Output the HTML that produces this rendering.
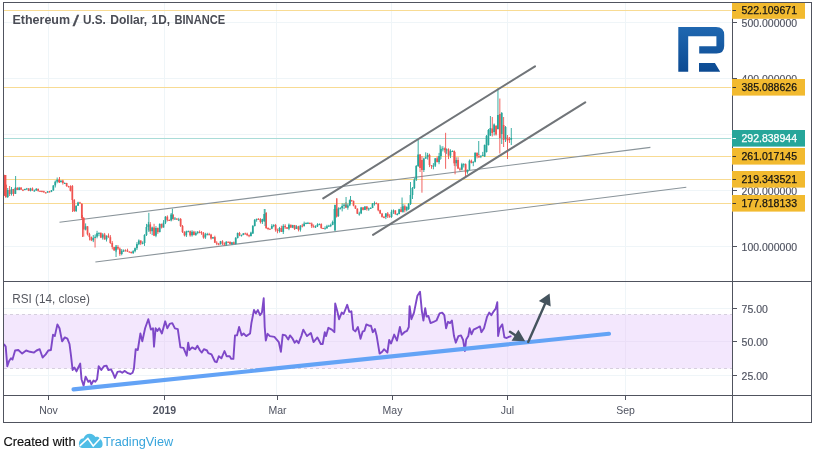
<!DOCTYPE html>
<html lang="en"><head><meta charset="utf-8"><title>Ethereum / U.S. Dollar, 1D, BINANCE</title>
<style>
html,body{margin:0;padding:0;background:#fff;}
body{width:815px;height:459px;overflow:hidden;}
svg{display:block;font-family:"Liberation Sans",Arial,sans-serif;}
</style></head><body>
<svg width="815" height="459" viewBox="0 0 815 459">
<rect width="815" height="459" fill="#ffffff"/>
<g id="grid"><rect x="48" y="3" width="1" height="392" fill="#eff5f8"/><rect x="164" y="3" width="1" height="392" fill="#eff5f8"/><rect x="276" y="3" width="1" height="392" fill="#eff5f8"/><rect x="391" y="3" width="1" height="392" fill="#eff5f8"/><rect x="507" y="3" width="1" height="392" fill="#eff5f8"/><rect x="625" y="3" width="1" height="392" fill="#eff5f8"/><rect x="4" y="22" width="728" height="1" fill="#eff5f8"/><rect x="4" y="78" width="728" height="1" fill="#eff5f8"/><rect x="4" y="134" width="728" height="1" fill="#eff5f8"/><rect x="4" y="190" width="728" height="1" fill="#eff5f8"/><rect x="4" y="246" width="728" height="1" fill="#eff5f8"/><rect x="4" y="308" width="728" height="1" fill="#eff5f8"/><rect x="4" y="341" width="728" height="1" fill="#eff5f8"/><rect x="4" y="375" width="728" height="1" fill="#eff5f8"/></g>
<rect x="4" y="314.5" width="728" height="54" fill="#f3e7fd"/>
<rect x="4" y="341" width="728" height="1" fill="#ebdff7"/>
<rect x="48" y="315" width="1" height="53.5" fill="#ebdff7"/>
<rect x="164" y="315" width="1" height="53.5" fill="#ebdff7"/>
<rect x="276" y="315" width="1" height="53.5" fill="#ebdff7"/>
<rect x="391" y="315" width="1" height="53.5" fill="#ebdff7"/>
<rect x="507" y="315" width="1" height="53.5" fill="#ebdff7"/>
<rect x="625" y="315" width="1" height="53.5" fill="#ebdff7"/>
<line x1="4" y1="314.5" x2="732" y2="314.5" stroke="#d6cfde" stroke-width="1" stroke-dasharray="3,3"/>
<line x1="4" y1="368.5" x2="732" y2="368.5" stroke="#d6cfde" stroke-width="1" stroke-dasharray="3,3"/>
<rect x="4" y="10" width="727" height="1" fill="#f8db93"/>
<rect x="4" y="87" width="727" height="1" fill="#f8db93"/>
<rect x="4" y="156" width="727" height="1" fill="#f8db93"/>
<rect x="4" y="179" width="727" height="1" fill="#f8db93"/>
<rect x="4" y="203" width="727" height="1" fill="#f8db93"/>
<rect x="4" y="138" width="727" height="1" fill="#a9dcd8"/>
<line x1="59.5" y1="222.3" x2="650.4" y2="147.4" stroke="#8a949a" stroke-width="1.1"/>
<line x1="95.4" y1="262" x2="686.3" y2="187.2" stroke="#8a949a" stroke-width="1.1"/>
<g id="candles"><rect x="4.2" y="175" width="2.2" height="21" fill="#ef5350"/><rect x="3.50" y="174.5" width="0.9" height="21.5" fill="#ef5350"/><rect x="3.05" y="175.0" width="1.75" height="20.0" fill="#ef5350"/><rect x="5.40" y="184.0" width="0.9" height="14.0" fill="#ef5350"/><rect x="4.95" y="185.0" width="1.75" height="12.0" fill="#ef5350"/><rect x="7.30" y="188.0" width="0.9" height="10.0" fill="#26a69a"/><rect x="6.85" y="190.0" width="1.75" height="7.0" fill="#26a69a"/><rect x="9.20" y="186.0" width="0.9" height="10.0" fill="#ef5350"/><rect x="8.75" y="190.0" width="1.75" height="4.0" fill="#ef5350"/><rect x="11.10" y="187.0" width="0.9" height="8.5" fill="#26a69a"/><rect x="10.65" y="189.0" width="1.75" height="5.0" fill="#26a69a"/><rect x="13.00" y="188.9" width="0.9" height="7.2" fill="#ef5350"/><rect x="12.55" y="189.0" width="1.75" height="4.9" fill="#ef5350"/><rect x="14.90" y="187.0" width="0.9" height="7.0" fill="#26a69a"/><rect x="14.45" y="187.9" width="1.75" height="5.9" fill="#26a69a"/><rect x="16.80" y="187.1" width="0.9" height="3.0" fill="#ef5350"/><rect x="16.35" y="187.9" width="1.75" height="2.1" fill="#ef5350"/><rect x="18.70" y="186.9" width="0.9" height="3.3" fill="#26a69a"/><rect x="18.25" y="187.7" width="1.75" height="2.3" fill="#26a69a"/><rect x="20.60" y="187.0" width="0.9" height="2.9" fill="#ef5350"/><rect x="20.15" y="187.7" width="1.75" height="2.0" fill="#ef5350"/><rect x="22.50" y="189.3" width="0.9" height="1.8" fill="#ef5350"/><rect x="22.05" y="189.7" width="1.75" height="1.0" fill="#ef5350"/><rect x="24.40" y="188.7" width="0.9" height="1.4" fill="#26a69a"/><rect x="23.95" y="189.0" width="1.75" height="1.1" fill="#26a69a"/><rect x="26.30" y="187.9" width="0.9" height="1.7" fill="#26a69a"/><rect x="25.85" y="188.5" width="1.75" height="1.0" fill="#26a69a"/><rect x="28.20" y="188.1" width="0.9" height="3.0" fill="#ef5350"/><rect x="27.75" y="188.5" width="1.75" height="2.3" fill="#ef5350"/><rect x="30.10" y="187.8" width="0.9" height="3.6" fill="#26a69a"/><rect x="29.65" y="188.5" width="1.75" height="2.3" fill="#26a69a"/><rect x="32.00" y="187.4" width="0.9" height="3.3" fill="#ef5350"/><rect x="31.55" y="188.5" width="1.75" height="2.1" fill="#ef5350"/><rect x="33.90" y="189.6" width="0.9" height="2.0" fill="#26a69a"/><rect x="33.45" y="190.5" width="1.75" height="1.0" fill="#26a69a"/><rect x="35.80" y="188.0" width="0.9" height="2.8" fill="#26a69a"/><rect x="35.35" y="188.9" width="1.75" height="1.6" fill="#26a69a"/><rect x="37.70" y="188.5" width="0.9" height="3.2" fill="#ef5350"/><rect x="37.25" y="188.9" width="1.75" height="1.9" fill="#ef5350"/><rect x="39.60" y="190.7" width="0.9" height="1.1" fill="#ef5350"/><rect x="39.15" y="190.8" width="1.75" height="1.0" fill="#ef5350"/><rect x="41.50" y="190.4" width="0.9" height="1.7" fill="#ef5350"/><rect x="41.05" y="191.1" width="1.75" height="1.0" fill="#ef5350"/><rect x="43.40" y="190.7" width="0.9" height="1.9" fill="#ef5350"/><rect x="42.95" y="191.2" width="1.75" height="1.2" fill="#ef5350"/><rect x="45.30" y="192.0" width="0.9" height="1.4" fill="#ef5350"/><rect x="44.85" y="192.4" width="1.75" height="1.0" fill="#ef5350"/><rect x="47.20" y="191.1" width="0.9" height="1.6" fill="#26a69a"/><rect x="46.75" y="191.4" width="1.75" height="1.2" fill="#26a69a"/><rect x="49.10" y="190.9" width="0.9" height="1.5" fill="#ef5350"/><rect x="48.65" y="191.4" width="1.75" height="1.0" fill="#ef5350"/><rect x="51.00" y="190.0" width="0.9" height="2.1" fill="#26a69a"/><rect x="50.55" y="190.3" width="1.75" height="1.4" fill="#26a69a"/><rect x="52.90" y="185.1" width="0.9" height="5.7" fill="#26a69a"/><rect x="52.45" y="185.5" width="1.75" height="4.8" fill="#26a69a"/><rect x="54.80" y="180.5" width="0.9" height="7.0" fill="#26a69a"/><rect x="54.35" y="181.7" width="1.75" height="3.7" fill="#26a69a"/><rect x="56.70" y="177.5" width="0.9" height="5.8" fill="#26a69a"/><rect x="56.25" y="179.8" width="1.75" height="1.9" fill="#26a69a"/><rect x="58.60" y="178.8" width="0.9" height="4.1" fill="#ef5350"/><rect x="58.15" y="179.8" width="1.75" height="2.2" fill="#ef5350"/><rect x="60.50" y="180.4" width="0.9" height="2.3" fill="#26a69a"/><rect x="60.05" y="180.6" width="1.75" height="1.4" fill="#26a69a"/><rect x="62.40" y="179.8" width="0.9" height="4.8" fill="#ef5350"/><rect x="61.95" y="180.6" width="1.75" height="2.4" fill="#ef5350"/><rect x="64.30" y="182.4" width="0.9" height="1.6" fill="#26a69a"/><rect x="63.85" y="183.0" width="1.75" height="1.0" fill="#26a69a"/><rect x="66.20" y="182.8" width="0.9" height="4.0" fill="#ef5350"/><rect x="65.75" y="183.0" width="1.75" height="3.0" fill="#ef5350"/><rect x="68.10" y="185.8" width="0.9" height="1.8" fill="#ef5350"/><rect x="67.65" y="186.0" width="1.75" height="1.0" fill="#ef5350"/><rect x="70.00" y="185.3" width="0.9" height="6.1" fill="#ef5350"/><rect x="69.55" y="186.4" width="1.75" height="4.5" fill="#ef5350"/><rect x="71.90" y="185.0" width="0.9" height="18.0" fill="#ef5350"/><rect x="71.45" y="186.0" width="1.75" height="14.0" fill="#ef5350"/><rect x="73.80" y="199.0" width="0.9" height="13.0" fill="#ef5350"/><rect x="73.35" y="200.0" width="1.75" height="11.0" fill="#ef5350"/><rect x="75.70" y="205.6" width="0.9" height="6.4" fill="#26a69a"/><rect x="75.25" y="205.7" width="1.75" height="5.3" fill="#26a69a"/><rect x="77.60" y="201.7" width="0.9" height="4.3" fill="#26a69a"/><rect x="77.15" y="202.5" width="1.75" height="3.2" fill="#26a69a"/><rect x="79.50" y="201.8" width="0.9" height="1.7" fill="#ef5350"/><rect x="79.05" y="202.5" width="1.75" height="1.0" fill="#ef5350"/><rect x="81.40" y="203.0" width="0.9" height="17.0" fill="#ef5350"/><rect x="80.95" y="204.0" width="1.75" height="14.0" fill="#ef5350"/><rect x="83.30" y="217.0" width="0.9" height="19.7" fill="#ef5350"/><rect x="82.85" y="218.0" width="1.75" height="11.5" fill="#ef5350"/><rect x="85.20" y="223.4" width="0.9" height="7.0" fill="#26a69a"/><rect x="84.75" y="226.3" width="1.75" height="3.2" fill="#26a69a"/><rect x="87.10" y="226.1" width="0.9" height="9.4" fill="#ef5350"/><rect x="86.65" y="226.3" width="1.75" height="8.0" fill="#ef5350"/><rect x="89.00" y="232.8" width="0.9" height="7.6" fill="#ef5350"/><rect x="88.55" y="234.2" width="1.75" height="2.9" fill="#ef5350"/><rect x="90.90" y="236.5" width="0.9" height="4.6" fill="#ef5350"/><rect x="90.45" y="237.1" width="1.75" height="3.2" fill="#ef5350"/><rect x="92.80" y="235.0" width="0.9" height="7.1" fill="#26a69a"/><rect x="92.35" y="237.9" width="1.75" height="2.5" fill="#26a69a"/><rect x="94.70" y="234.4" width="0.9" height="3.7" fill="#26a69a"/><rect x="94.25" y="236.8" width="1.75" height="1.1" fill="#26a69a"/><rect x="96.60" y="230.8" width="0.9" height="7.5" fill="#26a69a"/><rect x="96.15" y="233.2" width="1.75" height="3.5" fill="#26a69a"/><rect x="98.50" y="232.5" width="0.9" height="3.7" fill="#26a69a"/><rect x="98.05" y="232.8" width="1.75" height="1.0" fill="#26a69a"/><rect x="100.40" y="232.5" width="0.9" height="5.6" fill="#ef5350"/><rect x="99.95" y="232.8" width="1.75" height="4.8" fill="#ef5350"/><rect x="102.30" y="233.1" width="0.9" height="6.5" fill="#26a69a"/><rect x="101.85" y="234.5" width="1.75" height="3.1" fill="#26a69a"/><rect x="104.20" y="232.9" width="0.9" height="6.8" fill="#ef5350"/><rect x="103.75" y="234.5" width="1.75" height="4.9" fill="#ef5350"/><rect x="106.10" y="235.4" width="0.9" height="6.1" fill="#26a69a"/><rect x="105.65" y="235.7" width="1.75" height="3.7" fill="#26a69a"/><rect x="108.00" y="233.4" width="0.9" height="4.4" fill="#ef5350"/><rect x="107.55" y="235.7" width="1.75" height="1.5" fill="#ef5350"/><rect x="109.90" y="235.1" width="0.9" height="8.8" fill="#ef5350"/><rect x="109.45" y="237.2" width="1.75" height="5.8" fill="#ef5350"/><rect x="111.80" y="241.1" width="0.9" height="8.3" fill="#ef5350"/><rect x="111.35" y="243.0" width="1.75" height="4.1" fill="#ef5350"/><rect x="113.70" y="246.8" width="0.9" height="4.0" fill="#ef5350"/><rect x="113.25" y="247.1" width="1.75" height="3.3" fill="#ef5350"/><rect x="115.60" y="245.4" width="0.9" height="6.8" fill="#26a69a"/><rect x="115.15" y="246.9" width="1.75" height="3.5" fill="#26a69a"/><rect x="117.50" y="245.1" width="0.9" height="4.8" fill="#ef5350"/><rect x="117.05" y="246.9" width="1.75" height="1.7" fill="#ef5350"/><rect x="119.40" y="247.4" width="0.9" height="8.5" fill="#ef5350"/><rect x="118.95" y="248.6" width="1.75" height="5.5" fill="#ef5350"/><rect x="121.30" y="249.0" width="0.9" height="6.3" fill="#26a69a"/><rect x="120.85" y="250.7" width="1.75" height="3.3" fill="#26a69a"/><rect x="123.20" y="249.4" width="0.9" height="2.6" fill="#26a69a"/><rect x="122.75" y="250.4" width="1.75" height="1.0" fill="#26a69a"/><rect x="125.10" y="249.3" width="0.9" height="2.1" fill="#ef5350"/><rect x="124.65" y="250.4" width="1.75" height="1.0" fill="#ef5350"/><rect x="127.00" y="248.7" width="0.9" height="3.3" fill="#ef5350"/><rect x="126.55" y="250.4" width="1.75" height="1.1" fill="#ef5350"/><rect x="128.90" y="251.4" width="0.9" height="1.2" fill="#ef5350"/><rect x="128.45" y="251.5" width="1.75" height="1.0" fill="#ef5350"/><rect x="130.80" y="251.6" width="0.9" height="1.9" fill="#ef5350"/><rect x="130.35" y="251.9" width="1.75" height="1.2" fill="#ef5350"/><rect x="132.70" y="250.2" width="0.9" height="3.7" fill="#26a69a"/><rect x="132.25" y="251.2" width="1.75" height="1.9" fill="#26a69a"/><rect x="134.60" y="247.5" width="0.9" height="4.9" fill="#26a69a"/><rect x="134.15" y="248.2" width="1.75" height="3.0" fill="#26a69a"/><rect x="136.50" y="242.1" width="0.9" height="7.9" fill="#26a69a"/><rect x="136.05" y="244.1" width="1.75" height="4.1" fill="#26a69a"/><rect x="138.40" y="239.4" width="0.9" height="5.8" fill="#26a69a"/><rect x="137.95" y="240.5" width="1.75" height="3.7" fill="#26a69a"/><rect x="140.30" y="240.4" width="0.9" height="4.7" fill="#ef5350"/><rect x="139.85" y="240.5" width="1.75" height="2.9" fill="#ef5350"/><rect x="142.20" y="241.3" width="0.9" height="3.0" fill="#26a69a"/><rect x="141.75" y="242.9" width="1.75" height="1.0" fill="#26a69a"/><rect x="144.10" y="234.2" width="0.9" height="11.7" fill="#26a69a"/><rect x="143.65" y="235.0" width="1.75" height="8.0" fill="#26a69a"/><rect x="146.00" y="223.9" width="0.9" height="12.1" fill="#26a69a"/><rect x="145.55" y="227.0" width="1.75" height="8.0" fill="#26a69a"/><rect x="147.90" y="221.9" width="0.9" height="8.6" fill="#26a69a"/><rect x="147.45" y="224.4" width="1.75" height="2.6" fill="#26a69a"/><rect x="149.80" y="222.1" width="0.9" height="11.8" fill="#ef5350"/><rect x="149.35" y="224.4" width="1.75" height="6.8" fill="#ef5350"/><rect x="151.70" y="226.6" width="0.9" height="8.5" fill="#26a69a"/><rect x="151.25" y="227.5" width="1.75" height="3.7" fill="#26a69a"/><rect x="153.60" y="223.8" width="0.9" height="12.3" fill="#ef5350"/><rect x="153.15" y="227.5" width="1.75" height="8.2" fill="#ef5350"/><rect x="155.50" y="226.1" width="0.9" height="11.1" fill="#26a69a"/><rect x="155.05" y="228.0" width="1.75" height="7.7" fill="#26a69a"/><rect x="157.40" y="227.5" width="0.9" height="6.4" fill="#ef5350"/><rect x="156.95" y="228.0" width="1.75" height="4.1" fill="#ef5350"/><rect x="159.30" y="223.3" width="0.9" height="9.2" fill="#26a69a"/><rect x="158.85" y="224.0" width="1.75" height="8.0" fill="#26a69a"/><rect x="161.20" y="223.5" width="0.9" height="5.0" fill="#ef5350"/><rect x="160.75" y="224.0" width="1.75" height="3.5" fill="#ef5350"/><rect x="163.10" y="220.1" width="0.9" height="7.5" fill="#26a69a"/><rect x="162.65" y="222.7" width="1.75" height="4.8" fill="#26a69a"/><rect x="165.00" y="216.1" width="0.9" height="8.0" fill="#26a69a"/><rect x="164.55" y="216.7" width="1.75" height="6.0" fill="#26a69a"/><rect x="166.90" y="215.4" width="0.9" height="6.0" fill="#ef5350"/><rect x="166.45" y="216.7" width="1.75" height="3.2" fill="#ef5350"/><rect x="168.80" y="219.4" width="0.9" height="1.6" fill="#ef5350"/><rect x="168.35" y="220.0" width="1.75" height="1.0" fill="#ef5350"/><rect x="170.70" y="213.0" width="0.9" height="8.4" fill="#26a69a"/><rect x="170.25" y="214.5" width="1.75" height="5.9" fill="#26a69a"/><rect x="172.60" y="214.5" width="0.9" height="5.9" fill="#ef5350"/><rect x="172.15" y="214.5" width="1.75" height="4.4" fill="#ef5350"/><rect x="174.50" y="217.0" width="0.9" height="2.7" fill="#26a69a"/><rect x="174.05" y="218.5" width="1.75" height="1.0" fill="#26a69a"/><rect x="176.40" y="218.4" width="0.9" height="1.5" fill="#ef5350"/><rect x="175.95" y="218.5" width="1.75" height="1.1" fill="#ef5350"/><rect x="178.30" y="217.8" width="0.9" height="3.3" fill="#26a69a"/><rect x="177.85" y="219.4" width="1.75" height="1.0" fill="#26a69a"/><rect x="180.20" y="218.0" width="0.9" height="9.0" fill="#ef5350"/><rect x="179.75" y="219.0" width="1.75" height="7.0" fill="#ef5350"/><rect x="182.10" y="225.0" width="0.9" height="8.0" fill="#ef5350"/><rect x="181.65" y="226.0" width="1.75" height="6.0" fill="#ef5350"/><rect x="184.00" y="231.2" width="0.9" height="5.2" fill="#ef5350"/><rect x="183.55" y="232.0" width="1.75" height="3.4" fill="#ef5350"/><rect x="185.90" y="230.6" width="0.9" height="6.4" fill="#26a69a"/><rect x="185.45" y="231.4" width="1.75" height="4.0" fill="#26a69a"/><rect x="187.80" y="230.5" width="0.9" height="1.6" fill="#26a69a"/><rect x="187.35" y="231.2" width="1.75" height="1.0" fill="#26a69a"/><rect x="189.70" y="230.5" width="0.9" height="6.2" fill="#ef5350"/><rect x="189.25" y="231.2" width="1.75" height="4.2" fill="#ef5350"/><rect x="191.60" y="230.2" width="0.9" height="6.4" fill="#26a69a"/><rect x="191.15" y="231.7" width="1.75" height="3.6" fill="#26a69a"/><rect x="193.50" y="230.8" width="0.9" height="4.6" fill="#ef5350"/><rect x="193.05" y="231.7" width="1.75" height="3.2" fill="#ef5350"/><rect x="195.40" y="231.3" width="0.9" height="4.6" fill="#26a69a"/><rect x="194.95" y="232.9" width="1.75" height="2.0" fill="#26a69a"/><rect x="197.30" y="231.0" width="0.9" height="3.2" fill="#26a69a"/><rect x="196.85" y="231.9" width="1.75" height="1.0" fill="#26a69a"/><rect x="199.20" y="230.4" width="0.9" height="2.9" fill="#ef5350"/><rect x="198.75" y="231.9" width="1.75" height="1.0" fill="#ef5350"/><rect x="201.10" y="231.1" width="0.9" height="3.7" fill="#ef5350"/><rect x="200.65" y="232.2" width="1.75" height="1.0" fill="#ef5350"/><rect x="203.00" y="232.0" width="0.9" height="6.7" fill="#ef5350"/><rect x="202.55" y="233.1" width="1.75" height="4.4" fill="#ef5350"/><rect x="204.90" y="232.8" width="0.9" height="6.1" fill="#26a69a"/><rect x="204.45" y="234.4" width="1.75" height="3.1" fill="#26a69a"/><rect x="206.80" y="232.8" width="0.9" height="2.4" fill="#26a69a"/><rect x="206.35" y="234.2" width="1.75" height="1.0" fill="#26a69a"/><rect x="208.70" y="232.8" width="0.9" height="2.4" fill="#ef5350"/><rect x="208.25" y="234.2" width="1.75" height="1.0" fill="#ef5350"/><rect x="210.60" y="233.8" width="0.9" height="5.8" fill="#ef5350"/><rect x="210.15" y="234.6" width="1.75" height="3.9" fill="#ef5350"/><rect x="212.50" y="236.9" width="0.9" height="1.8" fill="#26a69a"/><rect x="212.05" y="237.1" width="1.75" height="1.4" fill="#26a69a"/><rect x="214.40" y="235.7" width="0.9" height="7.3" fill="#ef5350"/><rect x="213.95" y="237.1" width="1.75" height="5.6" fill="#ef5350"/><rect x="216.30" y="241.2" width="0.9" height="4.0" fill="#ef5350"/><rect x="215.85" y="242.7" width="1.75" height="1.0" fill="#ef5350"/><rect x="218.20" y="242.9" width="0.9" height="2.3" fill="#ef5350"/><rect x="217.75" y="243.7" width="1.75" height="1.0" fill="#ef5350"/><rect x="220.10" y="240.9" width="0.9" height="3.6" fill="#26a69a"/><rect x="219.65" y="241.3" width="1.75" height="3.0" fill="#26a69a"/><rect x="222.00" y="240.2" width="0.9" height="4.8" fill="#ef5350"/><rect x="221.55" y="241.3" width="1.75" height="2.2" fill="#ef5350"/><rect x="223.90" y="242.3" width="0.9" height="3.5" fill="#ef5350"/><rect x="223.45" y="243.5" width="1.75" height="1.0" fill="#ef5350"/><rect x="225.80" y="241.1" width="0.9" height="4.7" fill="#26a69a"/><rect x="225.35" y="241.8" width="1.75" height="2.8" fill="#26a69a"/><rect x="227.70" y="241.4" width="0.9" height="1.3" fill="#ef5350"/><rect x="227.25" y="241.8" width="1.75" height="1.0" fill="#ef5350"/><rect x="229.60" y="241.4" width="0.9" height="2.8" fill="#ef5350"/><rect x="229.15" y="241.9" width="1.75" height="2.2" fill="#ef5350"/><rect x="231.50" y="241.9" width="0.9" height="3.0" fill="#26a69a"/><rect x="231.05" y="242.3" width="1.75" height="1.8" fill="#26a69a"/><rect x="233.40" y="241.5" width="0.9" height="2.5" fill="#ef5350"/><rect x="232.95" y="242.3" width="1.75" height="1.6" fill="#ef5350"/><rect x="235.30" y="237.0" width="0.9" height="7.5" fill="#26a69a"/><rect x="234.85" y="238.0" width="1.75" height="6.0" fill="#26a69a"/><rect x="237.20" y="232.5" width="0.9" height="6.0" fill="#26a69a"/><rect x="236.75" y="233.0" width="1.75" height="5.0" fill="#26a69a"/><rect x="239.10" y="231.9" width="0.9" height="4.3" fill="#ef5350"/><rect x="238.65" y="233.0" width="1.75" height="2.3" fill="#ef5350"/><rect x="241.00" y="234.6" width="0.9" height="1.9" fill="#26a69a"/><rect x="240.55" y="235.1" width="1.75" height="1.0" fill="#26a69a"/><rect x="242.90" y="233.1" width="0.9" height="2.1" fill="#26a69a"/><rect x="242.45" y="233.4" width="1.75" height="1.6" fill="#26a69a"/><rect x="244.80" y="232.6" width="0.9" height="1.9" fill="#ef5350"/><rect x="244.35" y="233.4" width="1.75" height="1.0" fill="#ef5350"/><rect x="246.70" y="232.7" width="0.9" height="3.5" fill="#ef5350"/><rect x="246.25" y="233.7" width="1.75" height="1.5" fill="#ef5350"/><rect x="248.60" y="234.4" width="0.9" height="2.8" fill="#ef5350"/><rect x="248.15" y="235.2" width="1.75" height="1.0" fill="#ef5350"/><rect x="250.50" y="231.7" width="0.9" height="4.8" fill="#26a69a"/><rect x="250.05" y="232.6" width="1.75" height="3.4" fill="#26a69a"/><rect x="252.40" y="225.0" width="0.9" height="9.0" fill="#26a69a"/><rect x="251.95" y="226.0" width="1.75" height="7.5" fill="#26a69a"/><rect x="254.30" y="219.0" width="0.9" height="7.5" fill="#26a69a"/><rect x="253.85" y="220.0" width="1.75" height="6.0" fill="#26a69a"/><rect x="256.20" y="218.7" width="0.9" height="3.0" fill="#26a69a"/><rect x="255.75" y="218.8" width="1.75" height="1.2" fill="#26a69a"/><rect x="258.10" y="218.2" width="0.9" height="1.6" fill="#ef5350"/><rect x="257.65" y="218.8" width="1.75" height="1.0" fill="#ef5350"/><rect x="260.00" y="218.2" width="0.9" height="5.3" fill="#ef5350"/><rect x="259.55" y="219.2" width="1.75" height="2.9" fill="#ef5350"/><rect x="261.90" y="218.7" width="0.9" height="5.3" fill="#26a69a"/><rect x="261.45" y="219.1" width="1.75" height="3.0" fill="#26a69a"/><rect x="263.80" y="209.0" width="0.9" height="13.0" fill="#26a69a"/><rect x="263.35" y="214.0" width="1.75" height="7.0" fill="#26a69a"/><rect x="265.70" y="212.0" width="0.9" height="17.0" fill="#ef5350"/><rect x="265.25" y="213.0" width="1.75" height="15.0" fill="#ef5350"/><rect x="267.60" y="227.3" width="0.9" height="2.8" fill="#ef5350"/><rect x="267.15" y="228.0" width="1.75" height="1.0" fill="#ef5350"/><rect x="269.50" y="228.5" width="0.9" height="1.2" fill="#ef5350"/><rect x="269.05" y="228.7" width="1.75" height="1.0" fill="#ef5350"/><rect x="271.40" y="224.1" width="0.9" height="5.1" fill="#26a69a"/><rect x="270.95" y="225.9" width="1.75" height="2.8" fill="#26a69a"/><rect x="273.30" y="224.2" width="0.9" height="3.0" fill="#26a69a"/><rect x="272.85" y="225.1" width="1.75" height="1.0" fill="#26a69a"/><rect x="275.20" y="223.9" width="0.9" height="7.8" fill="#ef5350"/><rect x="274.75" y="225.1" width="1.75" height="5.1" fill="#ef5350"/><rect x="277.10" y="228.6" width="0.9" height="4.7" fill="#ef5350"/><rect x="276.65" y="230.2" width="1.75" height="1.0" fill="#ef5350"/><rect x="279.00" y="226.9" width="0.9" height="5.7" fill="#26a69a"/><rect x="278.55" y="228.0" width="1.75" height="3.0" fill="#26a69a"/><rect x="280.90" y="225.7" width="0.9" height="6.3" fill="#ef5350"/><rect x="280.45" y="228.0" width="1.75" height="4.0" fill="#ef5350"/><rect x="282.80" y="224.2" width="0.9" height="9.8" fill="#26a69a"/><rect x="282.35" y="225.9" width="1.75" height="6.0" fill="#26a69a"/><rect x="284.70" y="224.2" width="0.9" height="4.7" fill="#ef5350"/><rect x="284.25" y="225.9" width="1.75" height="1.4" fill="#ef5350"/><rect x="286.60" y="227.1" width="0.9" height="1.9" fill="#ef5350"/><rect x="286.15" y="227.3" width="1.75" height="1.4" fill="#ef5350"/><rect x="288.50" y="223.5" width="0.9" height="6.7" fill="#26a69a"/><rect x="288.05" y="224.7" width="1.75" height="4.0" fill="#26a69a"/><rect x="290.40" y="224.7" width="0.9" height="3.1" fill="#ef5350"/><rect x="289.95" y="224.7" width="1.75" height="2.9" fill="#ef5350"/><rect x="292.30" y="224.8" width="0.9" height="3.3" fill="#26a69a"/><rect x="291.85" y="225.1" width="1.75" height="2.6" fill="#26a69a"/><rect x="294.20" y="224.9" width="0.9" height="5.1" fill="#ef5350"/><rect x="293.75" y="225.1" width="1.75" height="3.9" fill="#ef5350"/><rect x="296.10" y="225.2" width="0.9" height="3.8" fill="#26a69a"/><rect x="295.65" y="226.4" width="1.75" height="2.6" fill="#26a69a"/><rect x="298.00" y="225.8" width="0.9" height="5.6" fill="#ef5350"/><rect x="297.55" y="226.4" width="1.75" height="3.3" fill="#ef5350"/><rect x="299.90" y="225.1" width="0.9" height="6.5" fill="#26a69a"/><rect x="299.45" y="225.6" width="1.75" height="4.1" fill="#26a69a"/><rect x="301.80" y="223.8" width="0.9" height="3.6" fill="#ef5350"/><rect x="301.35" y="225.6" width="1.75" height="1.0" fill="#ef5350"/><rect x="303.70" y="221.6" width="0.9" height="4.9" fill="#26a69a"/><rect x="303.25" y="223.5" width="1.75" height="2.6" fill="#26a69a"/><rect x="305.60" y="222.3" width="0.9" height="1.9" fill="#26a69a"/><rect x="305.15" y="223.0" width="1.75" height="1.0" fill="#26a69a"/><rect x="307.50" y="221.9" width="0.9" height="2.0" fill="#26a69a"/><rect x="307.05" y="222.9" width="1.75" height="1.0" fill="#26a69a"/><rect x="309.40" y="222.5" width="0.9" height="1.6" fill="#ef5350"/><rect x="308.95" y="222.9" width="1.75" height="1.0" fill="#ef5350"/><rect x="311.30" y="222.5" width="0.9" height="5.5" fill="#ef5350"/><rect x="310.85" y="223.6" width="1.75" height="2.7" fill="#ef5350"/><rect x="313.20" y="224.5" width="0.9" height="3.0" fill="#ef5350"/><rect x="312.75" y="226.3" width="1.75" height="1.0" fill="#ef5350"/><rect x="315.10" y="225.3" width="0.9" height="2.7" fill="#26a69a"/><rect x="314.65" y="226.4" width="1.75" height="1.0" fill="#26a69a"/><rect x="317.00" y="223.2" width="0.9" height="3.8" fill="#26a69a"/><rect x="316.55" y="224.5" width="1.75" height="1.9" fill="#26a69a"/><rect x="318.90" y="223.4" width="0.9" height="1.7" fill="#26a69a"/><rect x="318.45" y="224.1" width="1.75" height="1.0" fill="#26a69a"/><rect x="320.80" y="223.3" width="0.9" height="5.6" fill="#ef5350"/><rect x="320.35" y="224.1" width="1.75" height="3.9" fill="#ef5350"/><rect x="322.70" y="227.8" width="0.9" height="1.2" fill="#ef5350"/><rect x="322.25" y="228.0" width="1.75" height="1.0" fill="#ef5350"/><rect x="324.60" y="226.3" width="0.9" height="3.0" fill="#26a69a"/><rect x="324.15" y="228.3" width="1.75" height="1.0" fill="#26a69a"/><rect x="326.50" y="224.8" width="0.9" height="3.7" fill="#26a69a"/><rect x="326.05" y="226.3" width="1.75" height="2.1" fill="#26a69a"/><rect x="328.40" y="224.8" width="0.9" height="2.0" fill="#26a69a"/><rect x="327.95" y="225.7" width="1.75" height="1.0" fill="#26a69a"/><rect x="330.30" y="223.6" width="0.9" height="3.5" fill="#26a69a"/><rect x="329.85" y="225.1" width="1.75" height="1.0" fill="#26a69a"/><rect x="332.20" y="220.6" width="0.9" height="4.6" fill="#26a69a"/><rect x="331.75" y="222.0" width="1.75" height="3.0" fill="#26a69a"/><rect x="334.10" y="204.8" width="0.9" height="25.9" fill="#26a69a"/><rect x="333.65" y="209.0" width="1.75" height="14.5" fill="#26a69a"/><rect x="336.00" y="198.3" width="0.9" height="19.2" fill="#ef5350"/><rect x="335.55" y="209.0" width="1.75" height="7.0" fill="#ef5350"/><rect x="337.90" y="207.3" width="0.9" height="9.6" fill="#26a69a"/><rect x="337.45" y="208.4" width="1.75" height="7.6" fill="#26a69a"/><rect x="339.80" y="207.1" width="0.9" height="2.2" fill="#26a69a"/><rect x="339.35" y="208.2" width="1.75" height="1.0" fill="#26a69a"/><rect x="341.70" y="203.2" width="0.9" height="8.2" fill="#26a69a"/><rect x="341.25" y="205.9" width="1.75" height="2.3" fill="#26a69a"/><rect x="343.60" y="203.2" width="0.9" height="5.8" fill="#26a69a"/><rect x="343.15" y="204.7" width="1.75" height="1.2" fill="#26a69a"/><rect x="345.50" y="202.1" width="0.9" height="6.0" fill="#ef5350"/><rect x="345.05" y="204.7" width="1.75" height="3.0" fill="#ef5350"/><rect x="347.40" y="203.6" width="0.9" height="6.1" fill="#26a69a"/><rect x="346.95" y="205.4" width="1.75" height="2.3" fill="#26a69a"/><rect x="349.30" y="199.5" width="0.9" height="6.7" fill="#26a69a"/><rect x="348.85" y="200.2" width="1.75" height="5.2" fill="#26a69a"/><rect x="351.20" y="199.9" width="0.9" height="1.7" fill="#ef5350"/><rect x="350.75" y="200.2" width="1.75" height="1.0" fill="#ef5350"/><rect x="353.10" y="200.6" width="0.9" height="5.7" fill="#ef5350"/><rect x="352.65" y="200.9" width="1.75" height="4.7" fill="#ef5350"/><rect x="355.00" y="205.5" width="0.9" height="3.4" fill="#ef5350"/><rect x="354.55" y="205.6" width="1.75" height="3.1" fill="#ef5350"/><rect x="356.90" y="208.3" width="0.9" height="5.7" fill="#ef5350"/><rect x="356.45" y="208.7" width="1.75" height="5.0" fill="#ef5350"/><rect x="358.80" y="211.7" width="0.9" height="4.0" fill="#26a69a"/><rect x="358.35" y="213.5" width="1.75" height="1.0" fill="#26a69a"/><rect x="360.70" y="206.9" width="0.9" height="7.2" fill="#26a69a"/><rect x="360.25" y="207.5" width="1.75" height="5.9" fill="#26a69a"/><rect x="362.60" y="207.0" width="0.9" height="3.4" fill="#ef5350"/><rect x="362.15" y="207.5" width="1.75" height="2.4" fill="#ef5350"/><rect x="364.50" y="206.2" width="0.9" height="3.9" fill="#26a69a"/><rect x="364.05" y="206.5" width="1.75" height="3.4" fill="#26a69a"/><rect x="366.40" y="206.1" width="0.9" height="4.5" fill="#ef5350"/><rect x="365.95" y="206.5" width="1.75" height="2.6" fill="#ef5350"/><rect x="368.30" y="207.6" width="0.9" height="3.2" fill="#26a69a"/><rect x="367.85" y="208.5" width="1.75" height="1.0" fill="#26a69a"/><rect x="370.20" y="207.3" width="0.9" height="1.7" fill="#26a69a"/><rect x="369.75" y="208.0" width="1.75" height="1.0" fill="#26a69a"/><rect x="372.10" y="203.0" width="0.9" height="5.1" fill="#26a69a"/><rect x="371.65" y="203.5" width="1.75" height="4.5" fill="#26a69a"/><rect x="374.00" y="201.4" width="0.9" height="4.2" fill="#26a69a"/><rect x="373.55" y="203.1" width="1.75" height="1.0" fill="#26a69a"/><rect x="375.90" y="202.4" width="0.9" height="1.7" fill="#ef5350"/><rect x="375.45" y="203.1" width="1.75" height="1.0" fill="#ef5350"/><rect x="377.80" y="203.2" width="0.9" height="8.1" fill="#ef5350"/><rect x="377.35" y="203.7" width="1.75" height="6.6" fill="#ef5350"/><rect x="379.70" y="209.7" width="0.9" height="4.4" fill="#ef5350"/><rect x="379.25" y="210.2" width="1.75" height="3.3" fill="#ef5350"/><rect x="381.60" y="212.9" width="0.9" height="4.7" fill="#ef5350"/><rect x="381.15" y="213.6" width="1.75" height="3.3" fill="#ef5350"/><rect x="383.50" y="215.9" width="0.9" height="2.3" fill="#ef5350"/><rect x="383.05" y="216.9" width="1.75" height="1.0" fill="#ef5350"/><rect x="385.40" y="213.0" width="0.9" height="6.1" fill="#26a69a"/><rect x="384.95" y="213.5" width="1.75" height="3.6" fill="#26a69a"/><rect x="387.30" y="212.0" width="0.9" height="6.0" fill="#ef5350"/><rect x="386.85" y="213.5" width="1.75" height="2.7" fill="#ef5350"/><rect x="389.20" y="214.2" width="0.9" height="3.5" fill="#ef5350"/><rect x="388.75" y="216.2" width="1.75" height="1.0" fill="#ef5350"/><rect x="391.10" y="209.7" width="0.9" height="8.2" fill="#26a69a"/><rect x="390.65" y="211.8" width="1.75" height="5.1" fill="#26a69a"/><rect x="393.00" y="209.4" width="0.9" height="4.5" fill="#26a69a"/><rect x="392.55" y="210.4" width="1.75" height="1.4" fill="#26a69a"/><rect x="394.90" y="210.3" width="0.9" height="4.3" fill="#ef5350"/><rect x="394.45" y="210.4" width="1.75" height="3.8" fill="#ef5350"/><rect x="396.80" y="213.1" width="0.9" height="2.3" fill="#26a69a"/><rect x="396.35" y="214.0" width="1.75" height="1.0" fill="#26a69a"/><rect x="398.70" y="208.8" width="0.9" height="5.3" fill="#26a69a"/><rect x="398.25" y="209.3" width="1.75" height="4.8" fill="#26a69a"/><rect x="400.60" y="206.9" width="0.9" height="5.4" fill="#ef5350"/><rect x="400.15" y="209.3" width="1.75" height="2.6" fill="#ef5350"/><rect x="402.50" y="204.0" width="0.9" height="8.7" fill="#26a69a"/><rect x="402.05" y="206.2" width="1.75" height="5.7" fill="#26a69a"/><rect x="404.40" y="204.5" width="0.9" height="7.9" fill="#ef5350"/><rect x="403.95" y="206.2" width="1.75" height="4.1" fill="#ef5350"/><rect x="406.30" y="206.4" width="0.9" height="5.0" fill="#26a69a"/><rect x="405.85" y="206.9" width="1.75" height="3.4" fill="#26a69a"/><rect x="408.20" y="203.0" width="0.9" height="7.0" fill="#26a69a"/><rect x="407.75" y="204.0" width="1.75" height="5.0" fill="#26a69a"/><rect x="410.10" y="182.0" width="0.9" height="23.0" fill="#26a69a"/><rect x="409.65" y="195.0" width="1.75" height="9.0" fill="#26a69a"/><rect x="412.00" y="187.0" width="0.9" height="12.0" fill="#26a69a"/><rect x="411.55" y="188.0" width="1.75" height="7.0" fill="#26a69a"/><rect x="413.90" y="178.0" width="0.9" height="11.0" fill="#26a69a"/><rect x="413.45" y="179.5" width="1.75" height="8.5" fill="#26a69a"/><rect x="415.80" y="165.0" width="0.9" height="16.0" fill="#26a69a"/><rect x="415.35" y="166.0" width="1.75" height="13.5" fill="#26a69a"/><rect x="417.70" y="138.8" width="0.9" height="28.2" fill="#26a69a"/><rect x="417.25" y="154.5" width="1.75" height="11.5" fill="#26a69a"/><rect x="419.60" y="154.0" width="0.9" height="18.0" fill="#ef5350"/><rect x="419.15" y="154.5" width="1.75" height="13.5" fill="#ef5350"/><rect x="421.50" y="156.0" width="0.9" height="36.7" fill="#ef5350"/><rect x="421.05" y="160.0" width="1.75" height="10.0" fill="#ef5350"/><rect x="423.40" y="157.7" width="0.9" height="14.3" fill="#26a69a"/><rect x="422.95" y="158.6" width="1.75" height="11.4" fill="#26a69a"/><rect x="425.30" y="152.3" width="0.9" height="6.5" fill="#26a69a"/><rect x="424.85" y="157.2" width="1.75" height="1.4" fill="#26a69a"/><rect x="427.20" y="152.9" width="0.9" height="6.7" fill="#26a69a"/><rect x="426.75" y="154.9" width="1.75" height="2.2" fill="#26a69a"/><rect x="429.10" y="153.7" width="0.9" height="13.4" fill="#ef5350"/><rect x="428.65" y="154.9" width="1.75" height="10.1" fill="#ef5350"/><rect x="431.00" y="165.0" width="0.9" height="3.8" fill="#ef5350"/><rect x="430.55" y="165.1" width="1.75" height="1.0" fill="#ef5350"/><rect x="432.90" y="163.1" width="0.9" height="6.2" fill="#26a69a"/><rect x="432.45" y="165.7" width="1.75" height="1.0" fill="#26a69a"/><rect x="434.80" y="158.1" width="0.9" height="8.9" fill="#26a69a"/><rect x="434.35" y="158.3" width="1.75" height="7.4" fill="#26a69a"/><rect x="436.70" y="156.5" width="0.9" height="5.8" fill="#ef5350"/><rect x="436.25" y="158.3" width="1.75" height="3.8" fill="#ef5350"/><rect x="438.60" y="152.9" width="0.9" height="11.3" fill="#26a69a"/><rect x="438.15" y="156.0" width="1.75" height="6.2" fill="#26a69a"/><rect x="440.50" y="146.3" width="0.9" height="12.8" fill="#26a69a"/><rect x="440.05" y="148.9" width="1.75" height="7.1" fill="#26a69a"/><rect x="442.40" y="146.2" width="0.9" height="5.2" fill="#26a69a"/><rect x="441.95" y="148.4" width="1.75" height="1.0" fill="#26a69a"/><rect x="444.30" y="147.5" width="0.9" height="5.1" fill="#ef5350"/><rect x="443.85" y="148.4" width="1.75" height="1.6" fill="#ef5350"/><rect x="446.20" y="148.4" width="0.9" height="5.5" fill="#26a69a"/><rect x="445.75" y="149.4" width="1.75" height="1.0" fill="#26a69a"/><rect x="448.10" y="148.3" width="0.9" height="10.8" fill="#ef5350"/><rect x="447.65" y="149.4" width="1.75" height="6.3" fill="#ef5350"/><rect x="450.00" y="149.3" width="0.9" height="8.8" fill="#26a69a"/><rect x="449.55" y="151.2" width="1.75" height="4.5" fill="#26a69a"/><rect x="451.90" y="150.3" width="0.9" height="1.7" fill="#26a69a"/><rect x="451.45" y="151.0" width="1.75" height="1.0" fill="#26a69a"/><rect x="453.80" y="150.4" width="0.9" height="15.5" fill="#ef5350"/><rect x="453.35" y="151.0" width="1.75" height="12.3" fill="#ef5350"/><rect x="455.70" y="157.3" width="0.9" height="9.0" fill="#26a69a"/><rect x="455.25" y="160.0" width="1.75" height="3.2" fill="#26a69a"/><rect x="457.60" y="157.2" width="0.9" height="11.7" fill="#ef5350"/><rect x="457.15" y="160.0" width="1.75" height="8.6" fill="#ef5350"/><rect x="459.50" y="167.4" width="0.9" height="3.5" fill="#ef5350"/><rect x="459.05" y="168.6" width="1.75" height="1.1" fill="#ef5350"/><rect x="461.40" y="162.8" width="0.9" height="7.5" fill="#26a69a"/><rect x="460.95" y="164.2" width="1.75" height="5.5" fill="#26a69a"/><rect x="463.30" y="163.2" width="0.9" height="4.3" fill="#26a69a"/><rect x="462.85" y="164.2" width="1.75" height="1.0" fill="#26a69a"/><rect x="465.20" y="163.4" width="0.9" height="9.8" fill="#ef5350"/><rect x="464.75" y="164.2" width="1.75" height="8.0" fill="#ef5350"/><rect x="467.10" y="169.7" width="0.9" height="4.1" fill="#26a69a"/><rect x="466.65" y="169.8" width="1.75" height="2.3" fill="#26a69a"/><rect x="469.00" y="159.5" width="0.9" height="10.6" fill="#26a69a"/><rect x="468.55" y="160.7" width="1.75" height="9.1" fill="#26a69a"/><rect x="470.90" y="159.6" width="0.9" height="3.8" fill="#ef5350"/><rect x="470.45" y="160.7" width="1.75" height="2.2" fill="#ef5350"/><rect x="472.80" y="161.3" width="0.9" height="4.9" fill="#26a69a"/><rect x="472.35" y="161.8" width="1.75" height="1.1" fill="#26a69a"/><rect x="474.70" y="152.5" width="0.9" height="9.9" fill="#26a69a"/><rect x="474.25" y="152.7" width="1.75" height="9.1" fill="#26a69a"/><rect x="476.60" y="152.7" width="0.9" height="5.7" fill="#ef5350"/><rect x="476.15" y="152.7" width="1.75" height="3.5" fill="#ef5350"/><rect x="478.50" y="154.2" width="0.9" height="3.8" fill="#ef5350"/><rect x="478.05" y="156.2" width="1.75" height="1.0" fill="#ef5350"/><rect x="480.40" y="155.6" width="0.9" height="2.5" fill="#26a69a"/><rect x="479.95" y="155.7" width="1.75" height="1.0" fill="#26a69a"/><rect x="482.30" y="151.9" width="0.9" height="4.1" fill="#26a69a"/><rect x="481.85" y="154.9" width="1.75" height="1.0" fill="#26a69a"/><rect x="484.20" y="144.5" width="0.9" height="12.5" fill="#26a69a"/><rect x="483.75" y="145.0" width="1.75" height="11.5" fill="#26a69a"/><rect x="486.10" y="135.0" width="0.9" height="17.5" fill="#26a69a"/><rect x="485.65" y="136.0" width="1.75" height="16.0" fill="#26a69a"/><rect x="488.00" y="129.0" width="0.9" height="16.5" fill="#26a69a"/><rect x="487.55" y="130.0" width="1.75" height="15.0" fill="#26a69a"/><rect x="489.90" y="116.0" width="0.9" height="20.0" fill="#26a69a"/><rect x="489.45" y="128.0" width="1.75" height="7.5" fill="#26a69a"/><rect x="491.80" y="117.0" width="0.9" height="19.5" fill="#ef5350"/><rect x="491.35" y="128.5" width="1.75" height="4.5" fill="#ef5350"/><rect x="493.70" y="123.5" width="0.9" height="12.0" fill="#26a69a"/><rect x="493.25" y="124.5" width="1.75" height="7.5" fill="#26a69a"/><rect x="495.60" y="125.0" width="0.9" height="10.6" fill="#ef5350"/><rect x="495.15" y="126.0" width="1.75" height="8.5" fill="#ef5350"/><rect x="497.50" y="88.4" width="0.9" height="41.1" fill="#26a69a"/><rect x="497.05" y="115.0" width="1.75" height="14.0" fill="#26a69a"/><rect x="499.40" y="98.5" width="0.9" height="55.0" fill="#ef5350"/><rect x="498.95" y="114.0" width="1.75" height="24.0" fill="#ef5350"/><rect x="501.30" y="112.0" width="0.9" height="32.0" fill="#26a69a"/><rect x="500.85" y="113.0" width="1.75" height="21.0" fill="#26a69a"/><rect x="503.20" y="117.0" width="0.9" height="30.0" fill="#ef5350"/><rect x="502.75" y="125.0" width="1.75" height="15.0" fill="#ef5350"/><rect x="505.10" y="126.0" width="0.9" height="16.0" fill="#26a69a"/><rect x="504.65" y="127.0" width="1.75" height="12.0" fill="#26a69a"/><rect x="507.00" y="135.0" width="0.9" height="24.0" fill="#ef5350"/><rect x="506.55" y="137.5" width="1.75" height="3.0" fill="#ef5350"/><rect x="508.90" y="137.0" width="0.9" height="6.0" fill="#ef5350"/><rect x="508.45" y="139.0" width="1.75" height="1.0" fill="#ef5350"/><rect x="510.80" y="128.0" width="0.9" height="17.0" fill="#26a69a"/><rect x="510.35" y="138.0" width="1.75" height="1.6" fill="#26a69a"/><rect x="15.20" y="176.0" width="0.9" height="18.0" fill="#26a69a"/><rect x="59.10" y="177.0" width="0.9" height="6.0" fill="#ef5350"/><rect x="72.10" y="190.0" width="0.9" height="22.0" fill="#ef5350"/><rect x="82.10" y="215.0" width="0.9" height="22.0" fill="#ef5350"/><rect x="94.60" y="238.0" width="0.9" height="9.5" fill="#ef5350"/><rect x="115.60" y="245.0" width="0.9" height="12.0" fill="#26a69a"/><rect x="148.40" y="212.8" width="0.9" height="19.2" fill="#26a69a"/><rect x="171.90" y="208.7" width="0.9" height="10.3" fill="#26a69a"/><rect x="264.60" y="209.0" width="0.9" height="17.0" fill="#26a69a"/><rect x="335.00" y="204.8" width="0.9" height="25.9" fill="#26a69a"/><rect x="336.60" y="198.3" width="0.9" height="18.7" fill="#ef5350"/><rect x="345.60" y="197.0" width="0.9" height="10.0" fill="#26a69a"/><rect x="350.10" y="196.0" width="0.9" height="8.0" fill="#26a69a"/><rect x="401.60" y="197.5" width="0.9" height="12.5" fill="#26a69a"/><rect x="439.60" y="144.8" width="0.9" height="15.2" fill="#26a69a"/><rect x="445.20" y="132.8" width="0.9" height="36.0" fill="#ef5350"/><rect x="454.60" y="152.0" width="0.9" height="22.3" fill="#ef5350"/><rect x="465.10" y="164.0" width="0.9" height="12.0" fill="#ef5350"/><rect x="478.30" y="141.0" width="0.9" height="14.0" fill="#26a69a"/></g>
<line x1="323.2" y1="198.3" x2="535" y2="66.3" stroke="#717579" stroke-width="2.05" stroke-linecap="round"/>
<line x1="373" y1="234.8" x2="585.2" y2="102.3" stroke="#717579" stroke-width="2.05" stroke-linecap="round"/>
<polyline points="3.9,344.0 5.7,346.6 7.3,366.2 9.1,361.0 11.0,358.3 12.5,359.6 15.1,350.5 18.3,350.0 22.2,353.6 26.1,350.5 30.0,351.8 34.0,352.6 36.6,350.5 39.7,349.2 42.6,357.5 45.7,354.4 48.3,350.5 50.9,350.0 53.0,334.8 54.8,336.1 57.4,324.4 59.5,328.3 62.1,341.4 64.8,337.4 67.4,338.7 69.5,344.0 71.0,355.7 72.6,370.0 74.4,367.5 76.5,371.4 78.3,367.5 80.2,363.6 81.5,379.2 83.6,385.7 85.6,376.6 88.3,381.8 90.0,380.5 91.4,384.4 93.5,380.5 95.3,381.8 97.1,379.2 98.7,366.2 101.3,370.0 103.9,366.2 106.5,365.6 108.4,370.0 111.0,369.3 112.8,372.7 114.9,377.9 117.5,371.9 120.1,371.4 122.2,372.7 124.8,370.9 127.9,373.2 130.5,374.0 132.6,372.7 133.9,368.8 135.7,349.2 137.8,350.0 140.4,333.5 142.3,341.4 145.1,328.3 148.3,319.2 150.9,329.6 153.0,328.3 154.0,346.6 155.6,328.3 157.4,330.9 159.2,328.3 161.9,333.5 165.2,321.3 167.3,328.3 169.7,323.9 172.3,323.1 174.9,328.3 177.8,329.1 180.4,347.4 183.5,347.9 186.7,355.7 188.2,342.7 189.5,350.0 192.1,347.4 195.3,349.2 197.4,345.8 200.0,350.5 201.8,352.6 203.9,349.2 207.0,350.5 208.3,353.1 211.5,354.4 214.9,361.5 216.7,362.2 218.8,356.2 221.4,358.3 224.5,351.0 226.6,356.2 229.7,356.2 231.3,358.9 233.4,358.9 235.0,335.4 237.0,335.4 239.1,327.0 241.7,335.4 243.6,333.5 246.2,336.1 250.1,333.5 251.4,323.1 254.0,310.0 255.8,313.4 257.9,310.0 260.0,315.2 261.9,312.6 263.7,298.3 264.7,327.0 265.8,340.5 267.6,333.8 269.9,336.1 274.4,336.9 278.8,342.1 280.9,351.8 282.7,334.8 285.6,335.4 288.2,339.5 290.0,335.4 292.6,338.7 294.7,342.7 296.6,340.6 298.6,343.2 301.3,336.1 303.3,329.6 307.0,336.1 310.9,333.0 313.5,342.1 317.4,337.4 320.8,344.0 322.7,344.0 324.8,332.2 326.1,336.1 328.4,327.8 331.8,329.6 334.4,332.2 335.2,303.5 337.3,311.3 339.1,319.2 341.7,312.6 343.6,314.0 347.2,304.8 349.3,311.9 351.4,311.3 353.2,329.6 355.3,331.4 357.9,327.0 360.5,338.7 362.6,331.7 364.4,330.9 366.3,324.4 369.1,325.7 371.0,325.7 372.8,332.2 374.9,329.1 376.7,336.1 379.6,353.6 382.2,351.8 384.0,349.2 387.4,352.6 389.2,340.0 391.1,343.5 394.2,334.6 397.0,340.6 399.9,327.0 401.7,334.8 404.4,332.2 407.0,330.9 408.8,327.0 409.6,306.1 411.4,319.2 414.0,312.6 417.4,295.7 420.0,291.7 421.9,311.3 423.4,320.5 425.2,308.2 426.6,316.6 428.4,316.0 430.5,323.1 433.6,321.8 436.5,320.5 439.6,313.4 442.2,312.6 444.3,315.2 446.1,328.3 448.0,321.8 450.0,323.1 451.9,320.5 454.0,336.1 455.8,342.7 458.4,336.1 461.0,335.4 463.1,340.0 464.9,351.0 466.2,339.5 468.3,336.1 469.6,328.3 471.5,334.3 473.6,329.6 476.2,328.3 478.8,327.0 480.0,326.5 481.4,332.2 484.0,328.3 487.1,316.6 489.2,312.6 491.3,315.2 493.7,311.3 495.7,308.7 497.3,302.2 498.1,336.1 499.7,328.3 502.3,324.4 504.4,337.4 506.7,338.0 508.8,336.9 511.4,336.1" fill="none" stroke="#7e48c8" stroke-width="1.9" stroke-linejoin="round"/>
<line x1="73.5" y1="389.4" x2="609" y2="333.8" stroke="#63a3f6" stroke-width="4.1" stroke-linecap="round"/>
<line x1="510" y1="331.8" x2="518" y2="337" stroke="#45545e" stroke-width="2.4" stroke-linecap="round"/>
<polygon points="525.2,341.3 518.4,329.7 511.6,340.7" fill="#45545e"/>
<line x1="528.2" y1="342" x2="545" y2="304" stroke="#45545e" stroke-width="2.4" stroke-linecap="round"/>
<polygon points="549.6,293.4 538.8,301 550.7,306.4" fill="#45545e"/>
<rect x="3.5" y="2.5" width="808" height="420" fill="none" stroke="#50535e" stroke-width="1"/>
<rect x="732" y="3" width="1" height="419" fill="#50535e"/>
<rect x="4" y="281" width="808" height="1" fill="#50535e"/>
<rect x="4" y="395" width="808" height="1" fill="#50535e"/>
<rect x="733" y="22" width="4" height="1" fill="#50535e"/><text x="741.6" y="27" font-size="10.5" fill="#4f5360" stroke="#4f5360" stroke-width="0.15">500.000000</text>
<rect x="733" y="78" width="4" height="1" fill="#50535e"/><text x="741.6" y="83" font-size="10.5" fill="#4f5360" stroke="#4f5360" stroke-width="0.15">400.000000</text>
<rect x="733" y="190" width="4" height="1" fill="#50535e"/><text x="741.6" y="195" font-size="10.5" fill="#4f5360" stroke="#4f5360" stroke-width="0.15">200.000000</text>
<rect x="733" y="246" width="4" height="1" fill="#50535e"/><text x="741.6" y="251" font-size="10.5" fill="#4f5360" stroke="#4f5360" stroke-width="0.15">100.000000</text>
<rect x="733" y="308" width="4" height="1" fill="#50535e"/><text x="741.6" y="313" font-size="10.5" fill="#4f5360" stroke="#4f5360" stroke-width="0.15">75.00</text>
<rect x="733" y="341" width="4" height="1" fill="#50535e"/><text x="741.6" y="346" font-size="10.5" fill="#4f5360" stroke="#4f5360" stroke-width="0.15">50.00</text>
<rect x="733" y="375" width="4" height="1" fill="#50535e"/><text x="741.6" y="380" font-size="10.5" fill="#4f5360" stroke="#4f5360" stroke-width="0.15">25.00</text>
<clipPath id="cp"><rect x="4" y="3" width="808" height="419"/></clipPath><g clip-path="url(#cp)">
<rect x="732" y="2.1999999999999993" width="73" height="16.6" fill="#f2ba2f"/><rect x="732.5" y="10" width="3.5" height="1" fill="#3a3a3a"/><text x="741.5" y="13.6" font-size="10.5" fill="#141414" stroke="#141414" stroke-width="0.25">522.109671</text>
<rect x="732" y="79" width="73" height="16.6" fill="#f2ba2f"/><rect x="732.5" y="87" width="3.5" height="1" fill="#3a3a3a"/><text x="741.5" y="91.3" font-size="10.5" fill="#141414" stroke="#141414" stroke-width="0.25">385.088626</text>
<rect x="732" y="130" width="73" height="16.6" fill="#26a69a"/><rect x="732.5" y="138" width="3.5" height="1" fill="#ffffff"/><text x="741.5" y="142.3" font-size="10.5" fill="#ffffff" stroke="#ffffff" stroke-width="0.25">292.838944</text>
<rect x="732" y="148" width="73" height="16.6" fill="#f2ba2f"/><rect x="732.5" y="156" width="3.5" height="1" fill="#3a3a3a"/><text x="741.5" y="160.3" font-size="10.5" fill="#141414" stroke="#141414" stroke-width="0.25">261.017145</text>
<rect x="732" y="171" width="73" height="16.6" fill="#f2ba2f"/><rect x="732.5" y="179" width="3.5" height="1" fill="#3a3a3a"/><text x="741.5" y="183.3" font-size="10.5" fill="#141414" stroke="#141414" stroke-width="0.25">219.343521</text>
<rect x="732" y="195" width="73" height="16.6" fill="#f2ba2f"/><rect x="732.5" y="203" width="3.5" height="1" fill="#3a3a3a"/><text x="741.5" y="207.3" font-size="10.5" fill="#141414" stroke="#141414" stroke-width="0.25">177.818133</text>
</g>
<rect x="48" y="396" width="1" height="4" fill="#50535e"/>
<text x="48.5" y="414" font-size="10.5" fill="#4f5360" text-anchor="middle">Nov</text>
<rect x="164" y="396" width="1" height="4" fill="#50535e"/>
<text x="164.5" y="414" font-size="10.5" fill="#4f5360" text-anchor="middle" font-weight="bold">2019</text>
<rect x="277" y="396" width="1" height="4" fill="#50535e"/>
<text x="277.5" y="414" font-size="10.5" fill="#4f5360" text-anchor="middle">Mar</text>
<rect x="392" y="396" width="1" height="4" fill="#50535e"/>
<text x="392.5" y="414" font-size="10.5" fill="#4f5360" text-anchor="middle">May</text>
<rect x="507" y="396" width="1" height="4" fill="#50535e"/>
<text x="507.5" y="414" font-size="10.5" fill="#4f5360" text-anchor="middle">Jul</text>
<rect x="625" y="396" width="1" height="4" fill="#50535e"/>
<text x="625.5" y="414" font-size="10.5" fill="#4f5360" text-anchor="middle">Sep</text>
<text y="23.6" font-size="12" font-weight="bold" fill="#4a4c55"><tspan x="12.5" y="23.6" textLength="57.6" lengthAdjust="spacingAndGlyphs">Ethereum</tspan> <tspan x="72.8" y="25.9" font-size="15" font-weight="normal" stroke="#4a4c55" stroke-width="0.3" textLength="6.2" lengthAdjust="spacingAndGlyphs">/</tspan> <tspan x="83.0" y="23.6" textLength="22.8" lengthAdjust="spacingAndGlyphs">U.S.</tspan> <tspan x="110.2" y="23.6" textLength="37.0" lengthAdjust="spacingAndGlyphs">Dollar,</tspan> <tspan x="151.6" y="23.6" textLength="18.4" lengthAdjust="spacingAndGlyphs">1D,</tspan> <tspan x="174.5" y="23.6" textLength="50.6" lengthAdjust="spacingAndGlyphs">BINANCE</tspan></text>
<text x="12.3" y="303.3" font-size="12" fill="#55575f" textLength="77.5" lengthAdjust="spacingAndGlyphs">RSI (14, close)</text>
<defs><linearGradient id="lg" x1="0" y1="0" x2="0" y2="1"><stop offset="0" stop-color="#1f67b0"/><stop offset="1" stop-color="#0c4a92"/></linearGradient></defs>
<path fill="url(#lg)" d="M678.3 27 H716 Q724.2 27 724.2 35 V46 Q724.2 53.4 716.5 53.4 H699.2 V46.3 H716.4 V36.3 H688.2 V71.7 H678.3 Z M699 63 H714.9 L720.2 71.7 H699 Z"/>
<text x="3.4" y="446.2" font-size="13.2" fill="#111111" stroke="#111111" stroke-width="0.15" textLength="72.2" lengthAdjust="spacingAndGlyphs">Created with</text>
<path fill="#4fbde6" d="M82 447.9 C79.5 447.9 78.9 446 78.9 444.2 C78.9 441 80.5 438.4 83.6 438.3 C84.5 435.5 86.8 433.7 89.6 433.7 C92.3 433.7 94.4 435 95.4 437 C97 436.3 98.6 436.6 99.4 438 C101.5 439.5 102.6 441.5 102.6 444 C102.6 446.5 101.5 447.9 99.5 447.9 Z"/>
<polyline points="79.8,445.9 87.9,438.5 93.2,446 100.2,438.6" fill="none" stroke="#ffffff" stroke-width="1.5" stroke-linejoin="miter"/>
<text x="103.2" y="446.2" font-size="13" fill="#38a5dc" textLength="70" lengthAdjust="spacingAndGlyphs">TradingView</text>
</svg>
</body></html>
